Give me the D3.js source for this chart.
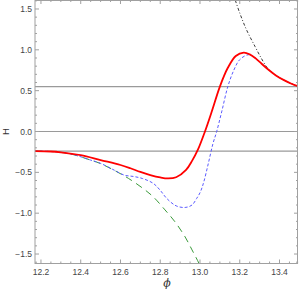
<!DOCTYPE html>
<html><head><meta charset="utf-8">
<script src="https://cdn.jsdelivr.net/npm/d3@7"></script>
<style>body{margin:0;background:#fff}svg{display:block}</style>
</head><body>
<script>
// ---- data ----
const xTicks = [12.2, 12.4, 12.6, 12.8, 13.0, 13.2, 13.4];
const yTicks = [-1.5, -1.0, -0.5, 0.0, 0.5, 1.0, 1.5];
const hLines = [0.55, 0.0, -0.24];
const redPhi = [12.17,12.25,12.3,12.4,12.5,12.6,12.65,12.7,12.75,12.8,12.84,12.88,12.93,12.96,12.99,13.025,13.06,13.1,13.14,13.18,13.22,13.25,13.28,13.31,13.34,13.38,13.42,13.46,13.5];
const redH   = [-0.24,-0.245,-0.255,-0.29,-0.35,-0.41,-0.45,-0.495,-0.533,-0.562,-0.574,-0.56,-0.47,-0.36,-0.22,0.0,0.25,0.55,0.78,0.925,0.966,0.945,0.895,0.83,0.765,0.69,0.632,0.585,0.55];
const bluePhi = [12.17,12.25,12.35,12.45,12.5,12.57,12.62,12.664,12.71,12.765,12.8,12.833,12.88,12.925,12.96,12.983,13.0,13.017,13.042,13.065,13.084,13.11,13.14,13.17,13.2,13.243,13.27,13.3,13.34,13.38,13.42,13.46,13.5];
const blueH   = [-0.24,-0.245,-0.275,-0.35,-0.39,-0.475,-0.535,-0.55,-0.575,-0.635,-0.72,-0.82,-0.91,-0.93,-0.9,-0.82,-0.75,-0.635,-0.39,-0.15,0.0,0.25,0.55,0.75,0.88,0.94,0.915,0.855,0.765,0.69,0.632,0.585,0.55];
const greenPhi = [12.17,12.25,12.3,12.35,12.4,12.45,12.497,12.572,12.64,12.715,12.765,12.824,12.874,12.925,12.96,12.995,13.01];
const greenH   = [-0.24,-0.245,-0.255,-0.275,-0.31,-0.35,-0.39,-0.48,-0.574,-0.7,-0.8,-0.96,-1.105,-1.29,-1.45,-1.615,-1.7];
const blackPhi = [13.165,13.2,13.235,13.277,13.31,13.34,13.38,13.42,13.46,13.5];
const blackH   = [1.7,1.45,1.24,1.04,0.89,0.775,0.69,0.632,0.585,0.55];

(function () {
const W = 299, H = 293;
const m = {l:35, t:0, r:1, b:29.5};
const svg = d3.select("body").append("svg").attr("width", W).attr("height", H);
const x = d3.scaleLinear().domain([12.17, 13.493]).range([m.l, W - m.r]);
const y = d3.scaleLinear().domain([-1.616, 1.61]).range([H - m.b, m.t]);

svg.append("clipPath").attr("id","clip").append("rect")
  .attr("x", m.l).attr("y", m.t).attr("width", W - m.r - m.l).attr("height", H - m.b - m.t);

const g = svg.append("g").attr("clip-path","url(#clip)");
g.selectAll("line.h").data(hLines).join("line")
  .attr("x1", m.l).attr("x2", W - m.r)
  .attr("y1", d => y(d)).attr("y2", d => y(d))
  .attr("stroke", "#9a9a9a").attr("stroke-width", 1.2);

const line = d3.line().x(d => x(d[0])).y(d => y(d[1])).curve(d3.curveCatmullRom.alpha(0.5));
const zip = (a, b) => a.map((v, i) => [v, b[i]]);

g.append("path").attr("d", line(zip(greenPhi, greenH))).attr("fill","none")
  .attr("stroke","#3a9a3a").attr("stroke-width",1).attr("stroke-dasharray","7,5");
g.append("path").attr("d", line(zip(bluePhi, blueH))).attr("fill","none")
  .attr("stroke","#5a5aff").attr("stroke-width",1).attr("stroke-dasharray","3,2");
g.append("path").attr("d", line(zip(blackPhi, blackH))).attr("fill","none")
  .attr("stroke","#222").attr("stroke-width",0.9).attr("stroke-dasharray","3,2,1,2");
g.append("path").attr("d", line(zip(redPhi, redH))).attr("fill","none")
  .attr("stroke","#ff0000").attr("stroke-width",1.8);

const frameCol = "#a0a0a0";
svg.append("rect").attr("x", m.l).attr("y", m.t + 0.5).attr("width", W - m.r - m.l - 0.5).attr("height", H - m.b - m.t - 0.5)
  .attr("fill","none").attr("stroke", frameCol).attr("stroke-width", 1);

const xMinor = d3.range(12.2, 13.5, 0.05).map(v => +v.toFixed(2));
const yMinor = d3.range(-1.6, 1.65, 0.1).map(v => +v.toFixed(2));
const pBottom = H - m.b, pTop = m.t, pLeft = m.l, pRight = W - m.r;
function tickX(vals, len) {
  vals.forEach(v => {
    const px = x(v);
    svg.append("line").attr("x1",px).attr("x2",px).attr("y1",pBottom).attr("y2",pBottom-len).attr("stroke",frameCol);
    svg.append("line").attr("x1",px).attr("x2",px).attr("y1",pTop).attr("y2",pTop+len).attr("stroke",frameCol);
  });
}
function tickY(vals, len) {
  vals.forEach(v => {
    const py = y(v);
    svg.append("line").attr("y1",py).attr("y2",py).attr("x1",pLeft).attr("x2",pLeft+len).attr("stroke",frameCol);
    svg.append("line").attr("y1",py).attr("y2",py).attr("x1",pRight).attr("x2",pRight-len).attr("stroke",frameCol);
  });
}
tickX(xMinor.filter(v => !xTicks.some(t => Math.abs(t - v) < 1e-6)), 2);
tickX(xTicks, 4);
tickY(yMinor.filter(v => !yTicks.some(t => Math.abs(t - v) < 1e-6)), 2);
tickY(yTicks, 4);

const font = "Liberation Sans, Arial, sans-serif";
svg.append("g").selectAll("text").data(xTicks).join("text")
  .attr("x", d => x(d)).attr("y", pBottom + 11)
  .attr("text-anchor","middle").attr("font-family",font).attr("font-size",8.5).attr("fill","#444")
  .text(d => d.toFixed(1));
svg.append("g").selectAll("text").data(yTicks).join("text")
  .attr("x", pLeft - 3).attr("y", d => y(d) + 3)
  .attr("text-anchor","end").attr("font-family",font).attr("font-size",8.5).attr("fill","#444")
  .text(d => (d < 0 ? "\u2212" : "") + Math.abs(d).toFixed(1));

svg.append("text").attr("transform", `translate(9,${y(0)}) rotate(-90)`)
  .attr("text-anchor","middle").attr("font-family",font).attr("font-size",9.5).attr("fill","#333").text("H");
svg.append("text").attr("x", 167).attr("y", 287)
  .attr("text-anchor","middle").attr("font-family","DejaVu Serif, serif").attr("font-style","italic")
  .attr("font-size",11).attr("fill","#333").text("\u03D5");
})();
</script>
</body></html>
